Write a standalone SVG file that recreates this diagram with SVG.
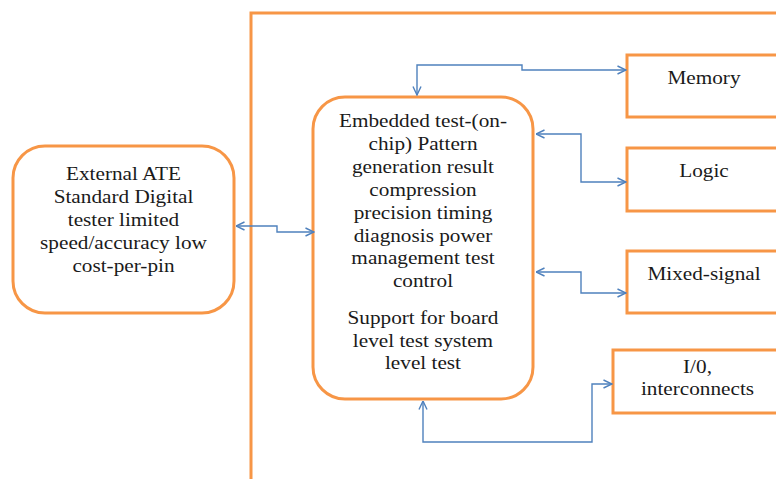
<svg xmlns="http://www.w3.org/2000/svg" width="776" height="479" viewBox="0 0 776 479">
  <style>
    .box { fill: #ffffff; stroke: #F79646; stroke-width: 3; }
    .frame { fill: none; stroke: #F79646; stroke-width: 3; }
    .link { fill: none; stroke: #4F81BD; stroke-width: 1.4; }
    .label { font-family: "Liberation Serif", "Times New Roman", serif; font-size: 18px; fill: #1a1a1a; text-anchor: middle; }
  </style>
  <defs>
    <marker id="arrow" viewBox="0 0 10 10" refX="9.5" refY="5" markerWidth="10" markerHeight="10" markerUnits="userSpaceOnUse" orient="auto-start-reverse">
      <path d="M1,1 L9.5,5 L1,9" fill="none" stroke="#4F81BD" stroke-width="1.4"/>
    </marker>
  </defs>

  <rect width="776" height="479" fill="#ffffff"/>

  <!-- chip boundary -->
  <path class="frame" d="M251,479 L251,13 L780,13"/>

  <!-- external tester -->
  <g id="external-ate">
    <rect class="box" x="13" y="146" width="221" height="167" rx="32" ry="32"/>
    <g transform="matrix(1.18,0,0,1,-22.23,0)">
      <text class="label" x="123.5" y="180">External ATE</text>
      <text class="label" x="123.5" y="203">Standard Digital</text>
      <text class="label" x="123.5" y="226">tester limited</text>
      <text class="label" x="123.5" y="249">speed/accuracy low</text>
      <text class="label" x="123.5" y="272">cost-per-pin</text>
    </g>
  </g>

  <!-- embedded test controller -->
  <g id="embedded-test">
    <rect class="box" x="313" y="97" width="220" height="302" rx="32" ry="32"/>
    <g transform="matrix(1.18,0,0,1,-76.14,0)">
      <text class="label" x="423" y="127">Embedded test-(on-</text>
      <text class="label" x="423" y="150">chip) Pattern</text>
      <text class="label" x="423" y="173">generation result</text>
      <text class="label" x="423" y="196">compression</text>
      <text class="label" x="423" y="219">precision timing</text>
      <text class="label" x="423" y="242">diagnosis power</text>
      <text class="label" x="423" y="264">management test</text>
      <text class="label" x="423" y="287">control</text>
      <text class="label" x="423" y="324">Support for board</text>
      <text class="label" x="423" y="347">level test system</text>
      <text class="label" x="423" y="369">level test</text>
    </g>
  </g>

  <!-- cores under test -->
  <g id="memory">
    <rect class="box" x="627" y="55" width="170" height="62"/>
    <g transform="matrix(1.18,0,0,1,-126.72,0)">
      <text class="label" x="704" y="84">Memory</text>
    </g>
  </g>

  <g id="logic">
    <rect class="box" x="627" y="148" width="170" height="63"/>
    <g transform="matrix(1.18,0,0,1,-126.72,0)">
      <text class="label" x="704" y="177">Logic</text>
    </g>
  </g>

  <g id="mixed-signal">
    <rect class="box" x="627" y="251" width="170" height="62"/>
    <g transform="matrix(1.18,0,0,1,-126.72,0)">
      <text class="label" x="704" y="280">Mixed-signal</text>
    </g>
  </g>

  <g id="io-interconnects">
    <rect class="box" x="613" y="350" width="184" height="63"/>
    <g transform="matrix(1.18,0,0,1,-125.55,0)">
      <text class="label" x="697.5" y="373">I/0,</text>
      <text class="label" x="697.5" y="395">interconnects</text>
    </g>
  </g>

  <!-- bidirectional links -->
  <g id="connectors">
    <path class="link" d="M236,226 L277,226 L277,232 L314,232" marker-start="url(#arrow)" marker-end="url(#arrow)"/>
    <path class="link" d="M417,95 L417,65 L522,65 L522,70 L626,70" marker-start="url(#arrow)" marker-end="url(#arrow)"/>
    <path class="link" d="M536,134 L581,134 L581,182 L626,182" marker-start="url(#arrow)" marker-end="url(#arrow)"/>
    <path class="link" d="M536,272 L581,272 L581,293 L626,293" marker-start="url(#arrow)" marker-end="url(#arrow)"/>
    <path class="link" d="M423,401 L423,442 L592,442 L592,384 L612,384" marker-start="url(#arrow)" marker-end="url(#arrow)"/>
  </g>
</svg>
